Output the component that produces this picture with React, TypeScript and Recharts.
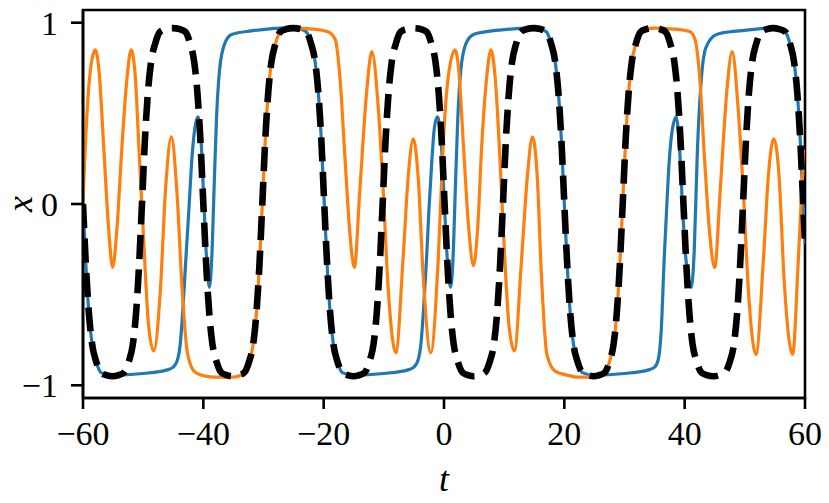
import React from 'react';
import { LineChart, Line, XAxis, YAxis, ReferenceArea, Label } from 'recharts';

// values: [t, x]
const blueCurve: [number, number][] = [
  [-60, 0], [-59.5, -0.35], [-59, -0.61], [-58.5, -0.77], [-57.8, -0.87], [-57, -0.93], [-55, -0.945],
  [-50, -0.935], [-46, -0.915], [-45, -0.9], [-44.3, -0.86], [-43.8, -0.76], [-43.4, -0.58], [-42.9, -0.3],
  [-42.4, -0.03], [-41.9, 0.25], [-41.4, 0.42], [-40.9, 0.48], [-40.4, 0.36], [-40, 0.08], [-39.5, -0.28],
  [-39, -0.46], [-38.6, -0.3], [-38.2, 0.1], [-37.8, 0.48], [-37.3, 0.74], [-36.5, 0.88], [-35.3, 0.935],
  [-32, 0.955], [-29.4, 0.965], [-26.8, 0.97], [-25, 0.97], [-23.9, 0.965], [-22.9, 0.95], [-22.1, 0.885],
  [-21.4, 0.78], [-20.9, 0.62], [-20.4, 0.36], [-19.9, 0], [-19.4, -0.35], [-18.9, -0.61], [-18.4, -0.77],
  [-17.7, -0.87], [-16.9, -0.93], [-15, -0.945], [-10, -0.935], [-6, -0.915], [-5, -0.9], [-4.3, -0.86],
  [-3.8, -0.76], [-3.4, -0.58], [-2.9, -0.3], [-2.5, -0.03], [-2, 0.25], [-1.6, 0.42], [-1.1, 0.48],
  [-0.5, 0.36], [-0.05, 0.08], [0.5, -0.28], [1.1, -0.46], [1.5, -0.3], [1.9, 0.1], [2.3, 0.48], [2.8, 0.74],
  [3.6, 0.88], [4.9, 0.935], [8, 0.955], [11, 0.965], [13.5, 0.97], [15, 0.97], [16, 0.965], [17, 0.95],
  [17.8, 0.885], [18.5, 0.78], [19, 0.62], [19.5, 0.36], [20, 0], [20.5, -0.35], [21, -0.61], [21.5, -0.77],
  [22.2, -0.87], [23, -0.93], [25, -0.945], [30, -0.935], [34, -0.915], [35, -0.9], [35.6, -0.86],
  [36.1, -0.7], [36.6, -0.3], [37, -0.03], [37.4, 0.22], [37.9, 0.4], [38.6, 0.48], [39.2, 0.28],
  [39.7, -0.05], [40.2, -0.3], [41.1, -0.46], [41.6, -0.25], [42.1, 0.28], [42.7, 0.66], [43.5, 0.86],
  [45.3, 0.935], [49, 0.955], [52, 0.965], [54, 0.97], [55.7, 0.965], [56.7, 0.95], [57.5, 0.885],
  [58.2, 0.78], [58.7, 0.62], [59.2, 0.36], [59.7, 0], [60, -0.22],
];

const orangeCurve: [number, number][] = [
  [-60, 0.02], [-59.6, 0.33], [-59.05, 0.64], [-58.5, 0.8], [-57.95, 0.85], [-57.3, 0.72], [-56.6, 0.34],
  [-55.75, -0.13], [-55.07, -0.35], [-54.35, -0.13], [-53.5, 0.33], [-52.7, 0.69], [-52, 0.85], [-51.3, 0.7],
  [-50.75, 0.34], [-49.9, -0.21], [-49.1, -0.67], [-48.25, -0.81], [-47.15, -0.48], [-46.3, 0.07],
  [-45.3, 0.37], [-44.4, 0.07], [-43.5, -0.48], [-42.7, -0.81], [-41.6, -0.92], [-40.2, -0.945],
  [-38.4, -0.955], [-35.1, -0.955], [-34.2, -0.95], [-33.2, -0.93], [-32.4, -0.87], [-31.7, -0.77],
  [-31.2, -0.61], [-30.7, -0.35], [-30.2, 0], [-29.7, 0.36], [-29.2, 0.62], [-28.7, 0.78], [-28, 0.885],
  [-27.2, 0.95], [-26.2, 0.965], [-25, 0.97], [-21.8, 0.965], [-19.3, 0.95], [-18.1, 0.91], [-17.3, 0.7],
  [-16.45, 0.25], [-15.6, -0.18], [-14.9, -0.35], [-14, 0.07], [-12.85, 0.62], [-12, 0.84], [-10.9, 0.52],
  [-10.1, 0.07], [-9.25, -0.48], [-8, -0.82], [-6.8, -0.3], [-5.95, 0.15], [-5.1, 0.36], [-4.3, 0.15],
  [-3.45, -0.4], [-2.2, -0.82], [-0.95, -0.3], [-0.12, 0.34], [0.7, 0.7], [1.85, 0.85], [2.5, 0.72],
  [3.2, 0.34], [4.1, -0.13], [4.9, -0.34], [5.6, -0.13], [6.3, 0.34], [7.1, 0.7], [7.8, 0.85], [8.5, 0.7],
  [9.3, 0.25], [10.1, -0.3], [10.8, -0.67], [11.7, -0.81], [12.9, -0.3], [13.85, 0.15], [14.7, 0.37],
  [15.5, 0.15], [16.2, -0.4], [17.1, -0.83], [18.4, -0.92], [20.65, -0.945], [22.05, -0.955],
  [24.85, -0.955], [25.7, -0.95], [26.7, -0.93], [27.5, -0.87], [28.2, -0.77], [28.7, -0.61], [29.2, -0.35],
  [29.7, 0], [30.2, 0.36], [30.7, 0.62], [31.2, 0.78], [31.9, 0.885], [32.7, 0.95], [33.7, 0.965],
  [35, 0.97], [38.1, 0.965], [40.9, 0.95], [41.7, 0.91], [42.5, 0.7], [43.3, 0.25], [44.2, -0.18],
  [45, -0.35], [45.9, 0.07], [47, 0.62], [47.9, 0.84], [48.9, 0.52], [49.75, 0.07], [50.6, -0.48],
  [51.85, -0.83], [53.1, -0.3], [53.9, 0.15], [54.8, 0.36], [55.7, 0.15], [56.5, -0.4], [57.95, -0.83],
  [58.9, -0.3], [59.6, 0.15], [60, 0.3],
];

const blackCurve: [number, number][] = [
  [-60, 0], [-59.5, -0.35], [-59, -0.61], [-58.5, -0.77], [-57.8, -0.87], [-57, -0.93], [-56, -0.945],
  [-55.1, -0.95], [-54.2, -0.945], [-53.2, -0.93], [-52.4, -0.87], [-51.7, -0.77], [-51.2, -0.61],
  [-50.7, -0.35], [-50.2, 0],
  [-49.7, 0.36], [-49.2, 0.62], [-48.7, 0.78], [-48, 0.885], [-47.2, 0.95], [-46.2, 0.965], [-45.1, 0.97],
  [-44, 0.965], [-43, 0.95], [-42.2, 0.885], [-41.5, 0.78], [-41, 0.62], [-40.5, 0.36], [-40, 0],
  [-39.5, -0.35], [-39, -0.61], [-38.5, -0.77], [-37.8, -0.87], [-37, -0.93], [-36, -0.945], [-35.1, -0.95],
  [-34.2, -0.945], [-33.2, -0.93], [-32.4, -0.87], [-31.7, -0.77], [-31.2, -0.61], [-30.7, -0.35], [-30.2, 0],
  [-29.7, 0.36], [-29.2, 0.62], [-28.7, 0.78], [-28, 0.885], [-27.2, 0.95], [-26.2, 0.965], [-25.05, 0.97],
  [-23.9, 0.965], [-22.9, 0.95], [-22.1, 0.885], [-21.4, 0.78], [-20.9, 0.62], [-20.4, 0.36], [-19.9, 0],
  [-19.4, -0.35], [-18.9, -0.61], [-18.4, -0.77], [-17.7, -0.87], [-16.9, -0.93], [-15.9, -0.945],
  [-15.05, -0.95], [-14.2, -0.945], [-13.2, -0.93], [-12.4, -0.87], [-11.7, -0.77], [-11.2, -0.61],
  [-10.7, -0.35], [-10.2, 0],
  [-9.7, 0.36], [-9.2, 0.62], [-8.7, 0.78], [-8, 0.885], [-7.2, 0.95], [-6.2, 0.965], [-5.05, 0.97],
  [-3.9, 0.965], [-2.9, 0.95], [-2.1, 0.885], [-1.4, 0.78], [-0.9, 0.62], [-0.4, 0.36], [0.1, 0],
  [0.6, -0.35], [1.1, -0.61], [1.6, -0.77], [2.3, -0.87], [3.1, -0.93], [4.1, -0.945], [4.95, -0.95],
  [5.8, -0.945], [6.8, -0.93], [7.6, -0.87], [8.3, -0.77], [8.8, -0.61], [9.3, -0.35], [9.8, 0],
  [10.3, 0.36], [10.8, 0.62], [11.3, 0.78], [12, 0.885], [12.8, 0.95], [13.8, 0.965], [14.9, 0.97],
  [16, 0.965], [17, 0.95], [17.8, 0.885], [18.5, 0.78], [19, 0.62], [19.5, 0.36], [20, 0],
  [20.5, -0.35], [21, -0.61], [21.5, -0.77], [22.2, -0.87], [23, -0.93], [24, -0.945], [24.85, -0.95],
  [25.7, -0.945], [26.7, -0.93], [27.5, -0.87], [28.2, -0.77], [28.7, -0.61], [29.2, -0.35], [29.7, 0],
  [30.2, 0.36], [30.7, 0.62], [31.2, 0.78], [31.9, 0.885], [32.7, 0.95], [33.7, 0.965], [34.75, 0.97],
  [35.8, 0.965], [36.8, 0.95], [37.6, 0.885], [38.3, 0.78], [38.8, 0.62], [39.3, 0.36], [39.8, 0],
  [40.3, -0.35], [40.8, -0.61], [41.3, -0.77], [42, -0.87], [42.8, -0.93], [43.8, -0.945], [44.75, -0.95],
  [45.7, -0.945], [46.7, -0.93], [47.5, -0.87], [48.2, -0.77], [48.7, -0.61], [49.2, -0.35], [49.7, 0],
  [50.2, 0.36], [50.7, 0.62], [51.2, 0.78], [51.9, 0.885], [52.7, 0.95], [53.7, 0.965], [54.7, 0.97],
  [55.7, 0.965], [56.7, 0.95], [57.5, 0.885], [58.2, 0.78], [58.7, 0.62], [59.2, 0.36], [59.7, 0],
  [60, -0.22],
];

const tTicks = [-60, -40, -20, 0, 20, 40, 60];
const xTicks = [-1, 0, 1];

const toRows = (pts: [number, number][]) => pts.map(([t, x]) => ({ t, x }));

const serif = '"Liberation Serif", "DejaVu Serif", serif';
const minus = (v: number) => String(v).replace('-', '\u2212');
const tickStyle = { fontSize: 34, fill: '#000', fontFamily: serif };

const App: React.FC = () => {
  return (
    <div style={{ position: 'absolute', left: 0, top: 0, background: '#fff' }}>
      <LineChart width={829} height={503} margin={{ top: 10, right: 24, bottom: 0, left: 0 }}>
        <XAxis
          dataKey="t"
          type="number"
          domain={[-60, 60]}
          ticks={tTicks}
          tickFormatter={minus}
          tick={tickStyle}
          tickSize={11}
          tickMargin={12}
          height={105}
          stroke="#000"
          strokeWidth={2.6}
          allowDataOverflow
        >
          <Label
            content={({ viewBox }: any) => (
              <text
                x={viewBox.x + viewBox.width / 2}
                y={viewBox.y + 93}
                textAnchor="middle"
                fontFamily={serif}
                fontStyle="italic"
                fontSize={36}
                fill="#000"
              >
                t
              </text>
            )}
          />
        </XAxis>
        <YAxis
          type="number"
          domain={[-1.07, 1.07]}
          ticks={xTicks}
          tickFormatter={minus}
          tick={tickStyle}
          tickSize={12}
          tickMargin={13}
          width={83}
          stroke="#000"
          strokeWidth={2.6}
          allowDataOverflow
        >
          <Label
            content={({ viewBox }: any) => {
              const cx = 20;
              const cy = viewBox.y + viewBox.height / 2;
              return (
                <text
                  x={cx}
                  y={cy}
                  transform={`rotate(-90 ${cx} ${cy})`}
                  textAnchor="middle"
                  dominantBaseline="central"
                  fontFamily={serif}
                  fontStyle="italic"
                  fontSize={36}
                  fill="#000"
                >
                  x
                </text>
              );
            }}
          />
        </YAxis>
        <ReferenceArea x1={-60} x2={60} y1={-1.07} y2={1.07} fill="none" stroke="#000" strokeWidth={2.6} />
        <Line
          data={toRows(blueCurve)}
          dataKey="x"
          type="monotone"
          stroke="#1f77b4"
          strokeWidth={3.2}
          dot={false}
          isAnimationActive={false}
        />
        <Line
          data={toRows(orangeCurve)}
          dataKey="x"
          type="monotone"
          stroke="#ff7f0e"
          strokeWidth={3.2}
          dot={false}
          isAnimationActive={false}
        />
        <Line
          data={toRows(blackCurve)}
          dataKey="x"
          type="monotone"
          stroke="#000"
          strokeWidth={6.6}
          strokeDasharray="24 10.5"
          dot={false}
          isAnimationActive={false}
        />
      </LineChart>
    </div>
  );
};

export default App;
